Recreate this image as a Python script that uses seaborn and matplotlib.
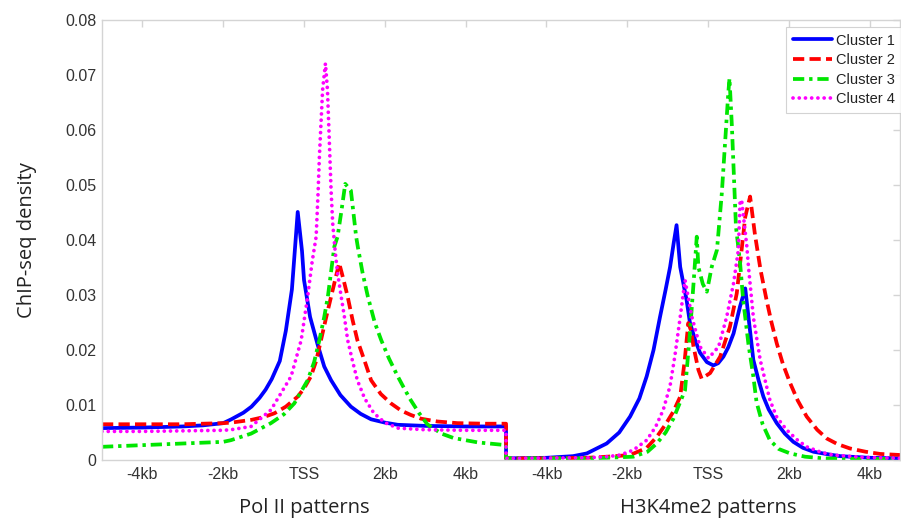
import matplotlib
matplotlib.use("Agg")
import matplotlib.pyplot as plt
import numpy as np
import pandas as pd
import seaborn as sns

# ---------------- data (kb relative to TSS, ChIP-seq density) ----------------
clusters = ["Cluster 1", "Cluster 2", "Cluster 3", "Cluster 4"]
tick_pos = [-4, -2, 0, 2, 4, 6, 8, 10, 12, 14]
tick_labels = ["-4kb", "-2kb", "TSS", "2kb", "4kb", "-4kb", "-2kb", "TSS", "2kb", "4kb"]
y_ticks = [0, 0.01, 0.02, 0.03, 0.04, 0.05, 0.06, 0.07, 0.08]
y_tick_labels = ["0", "0.01", "0.02", "0.03", "0.04", "0.05", "0.06", "0.07", "0.08"]
panel_names = ["Pol II patterns", "H3K4me2 patterns"]
panel_offset = 10  # second panel TSS sits 10 kb to the right

# Pol II panel
pol2_c1_x = [-5, -4, -3, -2.5, -2, -1.8, -1.5, -1.3, -1.1, -0.95, -0.8, -0.6, -0.45, -0.3, -0.156,
             -0.05, 0.0, 0.15, 0.34, 0.5, 0.67, 0.9, 1.16, 1.4, 1.66, 2.0, 2.32, 3, 4, 5]
pol2_c1_y = [0.0058, 0.0059, 0.0061, 0.0063, 0.0067, 0.0074, 0.0086, 0.0097, 0.0113, 0.0128, 0.0147,
             0.018, 0.0235, 0.031, 0.0451, 0.038, 0.0327, 0.026, 0.0209, 0.017, 0.0145, 0.0118,
             0.0097, 0.0084, 0.0074, 0.0068, 0.0064, 0.0062, 0.0061, 0.0061]

pol2_c2_x = [-5, -4, -3, -2, -1.8, -1.3, -1.0, -0.73, -0.45, -0.16, 0.0, 0.17, 0.3, 0.42, 0.55,
             0.67, 0.87, 0.97, 1.08, 1.2, 1.32, 1.5, 1.66, 1.9, 2.15, 2.4, 2.64, 2.9, 3.3, 3.8,
             4.5, 5]
pol2_c2_y = [0.0065, 0.0065, 0.0065, 0.0067, 0.0068, 0.0073, 0.0078, 0.0085, 0.0097, 0.0115,
             0.013, 0.0152, 0.018, 0.0218, 0.026, 0.0297, 0.0358, 0.033, 0.0297, 0.0255, 0.0218,
             0.018, 0.0145, 0.012, 0.0103, 0.009, 0.0082, 0.0075, 0.007, 0.0067, 0.0066, 0.0066]

pol2_c3_x = [-5, -4, -3, -2, -1.81, -1.31, -0.82, -0.5, -0.24, 0.09, 0.25, 0.38, 0.5, 0.59,
             0.75, 0.83, 0.92, 1.02, 1.16, 1.29, 1.33, 1.45, 1.58, 1.75, 1.91, 2.1, 2.32, 2.48,
             2.64, 2.85, 3.05, 3.4, 3.7, 4.3, 5]
pol2_c3_y = [0.0024, 0.0027, 0.003, 0.0033, 0.0036, 0.0048, 0.0067, 0.0083, 0.0103, 0.0145,
             0.0178, 0.0218, 0.026, 0.0297, 0.0388, 0.0406, 0.045, 0.0502, 0.049, 0.0406, 0.0388,
             0.034, 0.0297, 0.025, 0.0218, 0.0185, 0.0152, 0.013, 0.0109, 0.0085, 0.0065, 0.0048,
             0.004, 0.0032, 0.0027]

pol2_c4_x = [-5, -4, -3, -2, -1.81, -1.31, -0.82, -0.32, -0.07, 0.09, 0.2, 0.3, 0.35, 0.38,
             0.42, 0.46, 0.53, 0.58, 0.61, 0.64, 0.67, 0.71, 0.77, 0.83, 0.92, 1.0, 1.08, 1.2,
             1.32, 1.5, 1.73, 2.0, 2.32, 3, 4, 5]
pol2_c4_y = [0.0052, 0.0052, 0.0053, 0.0054, 0.0055, 0.0061, 0.0091, 0.0152, 0.0218, 0.0297,
             0.036, 0.0406, 0.049, 0.0551, 0.0612, 0.0673, 0.0721, 0.0673, 0.0613, 0.0551, 0.049,
             0.043, 0.038, 0.034, 0.0297, 0.026, 0.0218, 0.018, 0.0145, 0.0112, 0.0085, 0.0068,
             0.0058, 0.0055, 0.0054, 0.0054]

# H3K4me2 panel
h3_c1_x = [-5, -4, -3.34, -3.0, -2.51, -2.2, -1.93, -1.7, -1.52, -1.35, -1.19, -1.05, -0.94,
           -0.85, -0.78, -0.69, -0.53, -0.45, -0.32, -0.2, -0.03, 0.13, 0.25, 0.38, 0.5, 0.63,
           0.79, 0.92, 1.0, 1.12, 1.25, 1.37, 1.5, 1.7, 1.9, 2.11, 2.35, 2.61, 3.0, 3.27, 4.0, 4.78]
h3_c1_y = [0.0003, 0.0004, 0.0007, 0.0012, 0.003, 0.005, 0.0079, 0.0112, 0.0152, 0.02, 0.026,
           0.031, 0.0351, 0.0395, 0.0427, 0.0351, 0.029, 0.025, 0.0218, 0.0195, 0.0178, 0.0172,
           0.0176, 0.0188, 0.0205, 0.023, 0.0279, 0.0312, 0.026, 0.0182, 0.0145, 0.0115, 0.0092,
           0.0067, 0.0048, 0.0033, 0.0022, 0.0015, 0.001, 0.0007, 0.0004, 0.0003]

h3_c2_x = [-5, -4, -3, -2.5, -1.93, -1.52, -1.27, -1.05, -0.86, -0.69, -0.58, -0.49, -0.42,
           -0.36, -0.24, -0.16, 0.05, 0.3, 0.54, 0.71, 0.83, 0.92, 1.04, 1.16, 1.3, 1.45, 1.57,
           1.7, 1.85, 2.03, 2.22, 2.44, 2.7, 2.94, 3.2, 3.51, 3.9, 4.26, 4.78]
h3_c2_y = [0.0003, 0.0003, 0.0004, 0.0006, 0.0009, 0.0022, 0.0042, 0.0065, 0.0088, 0.0115,
           0.018, 0.0249, 0.0235, 0.0206, 0.0164, 0.0148, 0.0158, 0.0188, 0.0242, 0.0303, 0.0382,
           0.0442, 0.0479, 0.041, 0.0345, 0.029, 0.025, 0.0212, 0.0175, 0.014, 0.0108, 0.0079,
           0.0055, 0.0039, 0.0029, 0.0021, 0.0015, 0.0011, 0.0009]

h3_c3_x = [-5, -3, -2.5, -1.85, -1.5, -1.27, -1.05, -0.86, -0.57, -0.45, -0.36, -0.28, -0.24,
           -0.13, -0.03, 0.09, 0.22, 0.34, 0.42, 0.5, 0.53, 0.59, 0.64, 0.69, 0.79, 0.87, 1.0,
           1.12, 1.2, 1.35, 1.53, 1.75, 2.03, 2.4, 2.85, 3.5, 4.78]
h3_c3_y = [0.0003, 0.0003, 0.0004, 0.0006, 0.0015, 0.003, 0.005, 0.0075, 0.0127, 0.023, 0.0321,
           0.0406, 0.0351, 0.032, 0.0306, 0.0351, 0.0382, 0.0485, 0.0576, 0.0667, 0.0694, 0.0606,
           0.0515, 0.0424, 0.036, 0.029, 0.021, 0.0152, 0.0105, 0.0065, 0.0036, 0.002, 0.0012,
           0.0006, 0.0003, 0.0002, 0.0002]

h3_c4_x = [-5, -3, -2.5, -2.18, -1.85, -1.52, -1.3, -1.11, -0.94, -0.82, -0.69, -0.57, -0.4,
           -0.2, 0.01, 0.26, 0.46, 0.63, 0.75, 0.79, 0.83, 0.96, 1.0, 1.12, 1.29, 1.53, 1.7, 1.94,
           2.2, 2.44, 2.8, 3.1, 3.8, 4.78]
h3_c4_y = [0.0003, 0.0004, 0.0006, 0.0009, 0.0018, 0.0036, 0.006, 0.0091, 0.0135, 0.019,
           0.026, 0.0327, 0.026, 0.0206, 0.0185, 0.0206, 0.026, 0.0321, 0.0382, 0.0467, 0.0473,
           0.0388, 0.0351, 0.026, 0.0182, 0.0109, 0.0078, 0.0055, 0.0037, 0.0024, 0.0014,
           0.0009, 0.0005, 0.0003]

pol2_x = [pol2_c1_x, pol2_c2_x, pol2_c3_x, pol2_c4_x]
pol2_y = [pol2_c1_y, pol2_c2_y, pol2_c3_y, pol2_c4_y]
h3_x = [h3_c1_x, h3_c2_x, h3_c3_x, h3_c4_x]
h3_y = [h3_c1_y, h3_c2_y, h3_c3_y, h3_c4_y]

frames = []
for name, px, py, hx, hy in zip(clusters, pol2_x, pol2_y, h3_x, h3_y):
    pos = list(px) + [v + panel_offset for v in hx]
    dens = list(py) + list(hy)
    frames.append(pd.DataFrame({"pos": pos, "density": dens, "cluster": name}))
df = pd.concat(frames, ignore_index=True)

# ---------------- style ----------------
sns.set_theme(style="white")
plt.rcParams["font.family"] = ["Liberation Sans", "DejaVu Sans"]

palette = {"Cluster 1": "#0000ff", "Cluster 2": "#ff0000",
           "Cluster 3": "#00e600", "Cluster 4": "#ff00ff"}
dashes = {"Cluster 1": "", "Cluster 2": (3.0, 1.4),
          "Cluster 3": (3.0, 1.3, 0.9, 1.3), "Cluster 4": (0.01, 1.65)}

fig = plt.figure(figsize=(9.01, 5.21), dpi=100)
ax = fig.add_axes([102 / 901, 1 - 460 / 521, 798 / 901, 440 / 521])

sns.lineplot(data=df, x="pos", y="density", hue="cluster", style="cluster",
             palette=palette, dashes=dashes, estimator=None, sort=False,
             linewidth=2.7, legend=False, ax=ax)

lines = ax.get_lines()[:4]
lines[3].set_dash_capstyle("round")

ax.set_xlim(-5, 14.75)
ax.set_ylim(0, 0.08)
ax.set_xticks(tick_pos)
ax.set_xticklabels(tick_labels)
ax.set_yticks(y_ticks)
ax.set_yticklabels(y_tick_labels)
ax.set_xlabel("")

spine_col = "#d4d4d4"
for s in ax.spines.values():
    s.set_color(spine_col)
    s.set_linewidth(1.0)
ax.tick_params(axis="both", direction="in", length=5, width=1.0, color=spine_col,
               labelsize=11.5, labelcolor="#333333", top=True, right=True)
ax.tick_params(axis="x", pad=5)
ax.tick_params(axis="y", pad=4)

# panel names and y label
lab_font = ["Open Sans", "DejaVu Sans"]
ax.set_ylabel("ChIP-seq density", family=lab_font, fontsize=14.5, color="#222222",
              labelpad=20)
for i, name in enumerate(panel_names):
    ax.text(i * panel_offset, -0.0088, name, ha="center", va="center",
            family=lab_font, fontsize=14.5, color="#222222", transform=ax.transData)

# legend
leg = ax.legend(lines, clusters, loc="upper left",
                bbox_to_anchor=(786 / 901, 1 - 27 / 521), bbox_transform=fig.transFigure,
                fontsize=10.5, frameon=True, fancybox=False, handlelength=2.7,
                handletextpad=0.3, labelspacing=0.38, borderpad=0.45,
                borderaxespad=0)
leg.get_frame().set_edgecolor("#c8c8c8")
leg.get_frame().set_linewidth(0.8)
for t in leg.get_texts():
    t.set_color("#222222")

fig.savefig("out.png", dpi=100)
